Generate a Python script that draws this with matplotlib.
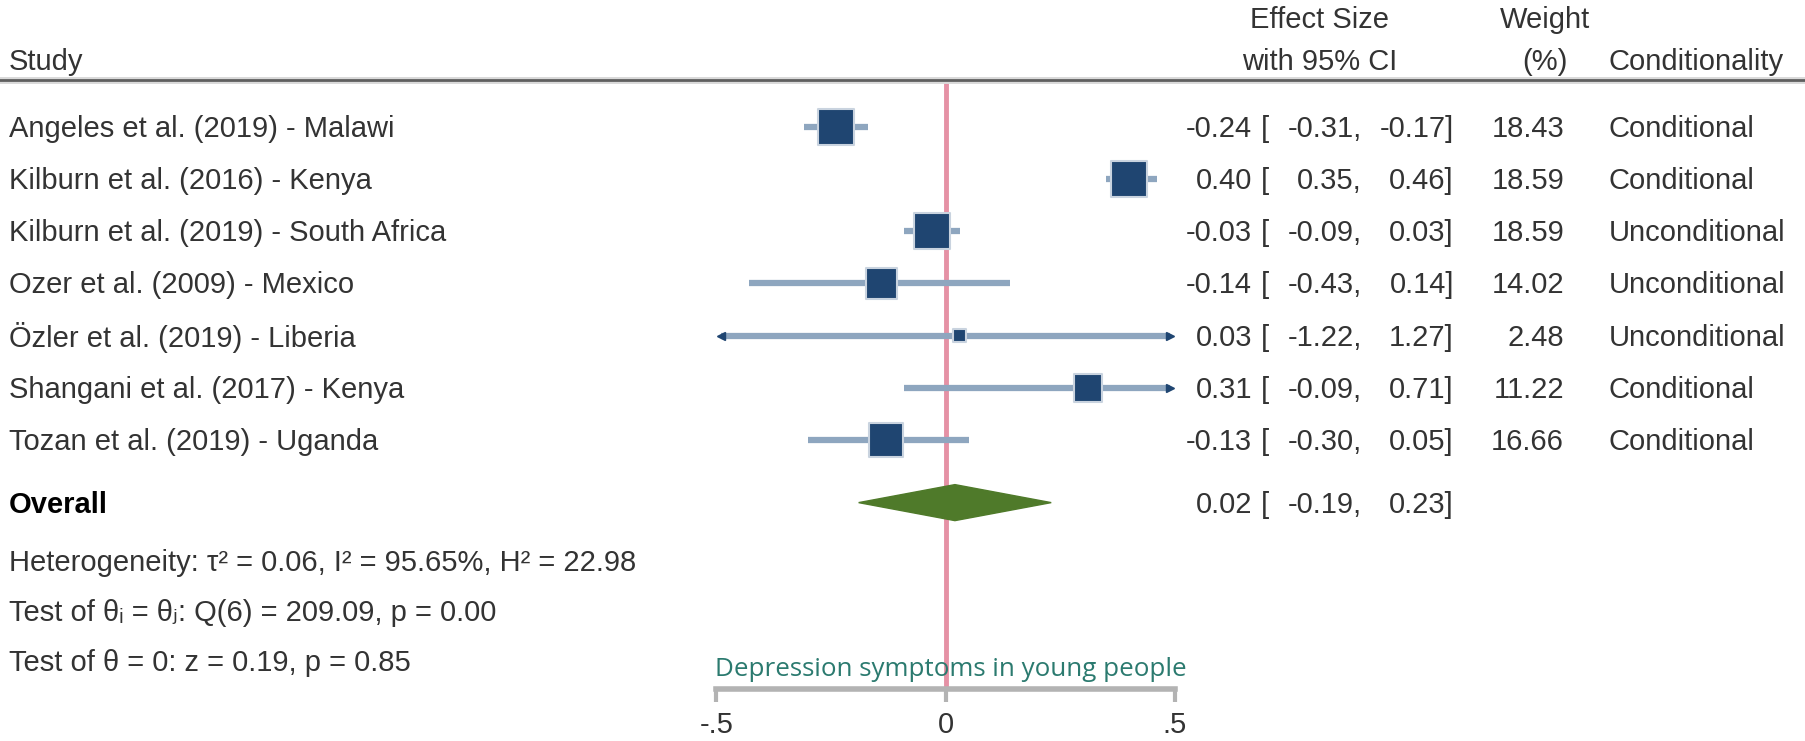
import matplotlib
matplotlib.use("Agg")
import matplotlib.pyplot as plt
from matplotlib.lines import Line2D
from matplotlib.transforms import blended_transform_factory

plt.rcParams['font.family'] = ['Liberation Sans', 'DejaVu Sans']

# Study-level results
studies = [
    "Angeles et al. (2019) - Malawi",
    "Kilburn et al. (2016) - Kenya",
    "Kilburn et al. (2019) - South Africa",
    "Ozer et al. (2009) - Mexico",
    "Özler et al. (2019) - Liberia",
    "Shangani et al. (2017) - Kenya",
    "Tozan et al. (2019) - Uganda",
]
effect = [-0.24, 0.40, -0.03, -0.14, 0.03, 0.31, -0.13]
ci_low = [-0.31, 0.35, -0.09, -0.43, -1.22, -0.09, -0.30]
ci_high = [-0.17, 0.46, 0.03, 0.14, 1.27, 0.71, 0.05]
weight = [18.43, 18.59, 18.59, 14.02, 2.48, 11.22, 16.66]
conditionality = ["Conditional", "Conditional", "Unconditional", "Unconditional",
                  "Unconditional", "Conditional", "Conditional"]

# Pooled estimate
overall_est = 0.02
overall_low = -0.19
overall_high = 0.23

stats_lines = [
    "Heterogeneity: τ² = 0.06, I² = 95.65%, H² = 22.98",
    "Test of θᵢ = θⱼ: Q(6) = 209.09, p = 0.00",
    "Test of θ = 0: z = 0.19, p = 0.85",
]

xticks = [-0.5, 0, 0.5]
xticklabels = ["-.5", "0", ".5"]

W, H = 1806, 741
TXT = "#333333"
BOX = "#1f4571"
WHISK = "#8ea6bf"
FS = 21

fig = plt.figure(figsize=(W / 100, H / 100), dpi=100)


def fx(px):
    return px / W


def fy(py):
    return 1 - py / H


# forest panel: x from -.5 to .5, top at header rule, bottom at axis
ax = fig.add_axes([fx(716.5), fy(689), fx(1175) - fx(716.5), fy(80) - fy(689)])
ax.set_xlim(-0.5, 0.5)
ax.set_ylim(10.77, -0.895)
for s in ["top", "left", "right"]:
    ax.spines[s].set_visible(False)
ax.spines["bottom"].set_color("#b3b3b3")
ax.spines["bottom"].set_linewidth(4)
ax.set_yticks([])
ax.set_xticks(xticks)
ax.set_xticklabels(xticklabels)
ax.tick_params(axis="x", length=9, width=3, color="#b3b3b3",
               labelsize=FS, labelcolor=TXT, pad=7)

ax.axvline(0, color="#e591a5", lw=3.5, zorder=1)

rows = list(range(len(studies)))
xmin, xmax = -0.49, 0.49
for i in rows:
    lo = max(ci_low[i], xmin)
    hi = min(ci_high[i], xmax)
    ax.plot([lo, hi], [i, i], color=WHISK, lw=4.5, solid_capstyle="butt", zorder=2)
    if ci_low[i] < xmin:
        ax.plot(lo, i, marker="<", color=BOX, ms=6, zorder=3)
    if ci_high[i] > xmax:
        ax.plot(hi, i, marker=">", color=BOX, ms=6, zorder=3)

# square area proportional to study weight
ax.scatter(effect, rows, s=[36.5 * w for w in weight], marker="s",
           color=BOX, edgecolor="#c9d3df", linewidth=1.5, zorder=4)

y_over = 7.2
ax.fill([overall_low, overall_est, overall_high, overall_est],
        [y_over, y_over - 0.345, y_over, y_over + 0.345],
        color="#4f7a2a", zorder=3, clip_on=False)

# text columns share the row positions of the forest panel
tr = blended_transform_factory(fig.transFigure, ax.transData)

ax.text(fx(715), 10.4, "Depression symptoms in young people", transform=tr,
        family="Open Sans", fontsize=18.7, color="#2b7a6f", va="center", ha="left")


def put(px, row, s, ha="left", **kw):
    kw.setdefault("color", TXT)
    ax.text(fx(px), row + 0.04, s, transform=tr, ha=ha, va="center", fontsize=FS,
            clip_on=False, **kw)


def ci_cols(row, est, lo, hi):
    put(1252, row, f"{est:.2f}", ha="right")
    put(1261, row, "[")
    put(1362, row, f"{lo:.2f},", ha="right")
    put(1454, row, f"{hi:.2f}]", ha="right")


# header
put(9, -1.28, "Study")
put(1320, -2.08, "Effect Size", ha="center")
put(1320, -1.28, "with 95% CI", ha="center")
put(1545, -2.08, "Weight", ha="center")
put(1545, -1.28, "(%)", ha="center")
put(1609, -1.28, "Conditionality")

ry = fy(80)
fig.add_artist(Line2D([0, 1], [ry, ry], transform=fig.transFigure,
                      color="#d9d9d9", lw=5))
fig.add_artist(Line2D([0, 1], [ry, ry], transform=fig.transFigure,
                      color="#5f5f5f", lw=2))

for i in rows:
    put(9, i, studies[i])
    ci_cols(i, effect[i], ci_low[i], ci_high[i])
    put(1564, i, f"{weight[i]:.2f}", ha="right")
    put(1609, i, conditionality[i])

put(9, y_over, "Overall", weight="bold", color="black")
ci_cols(y_over, overall_est, overall_low, overall_high)

for row, s in zip([8.32, 9.27, 10.24], stats_lines):
    put(9, row, s)

fig.savefig("out.png", dpi=100)
